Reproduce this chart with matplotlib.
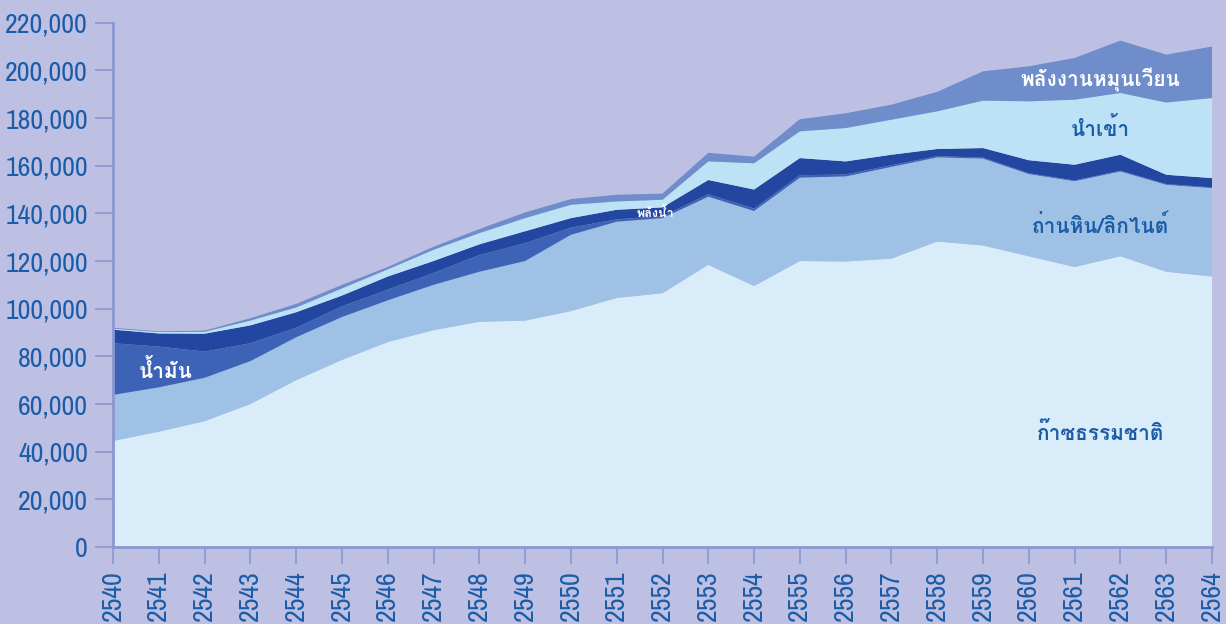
import numpy as np
import matplotlib
matplotlib.use("Agg")
import matplotlib.pyplot as plt
from matplotlib import font_manager
from matplotlib.font_manager import FontProperties
from matplotlib.ft2font import FT2Font
from matplotlib.ticker import FuncFormatter

# ---- data (thousands) ----
years = list(range(2540, 2565))
gas = [44.5, 48.4, 52.8, 60.0, 70.0, 78.5, 86.0, 91.0, 94.5, 95.0, 99.0, 104.5, 106.5,
       118.4, 109.5, 120.0, 119.8, 121.0, 128.2, 126.5, 122.0, 117.5, 122.0, 115.5, 113.5]
coal = [19.3, 18.6, 18.2, 18.0, 18.0, 18.0, 17.5, 19.0, 21.0, 25.0, 32.0, 32.0, 31.5,
        28.6, 31.5, 35.0, 35.7, 38.5, 35.3, 36.5, 34.5, 36.0, 35.6, 36.5, 37.1]
oil = [21.7, 17.1, 11.0, 7.5, 4.0, 4.5, 4.5, 5.0, 7.0, 7.5, 3.0, 1.0, 0.8,
       1.0, 1.0, 1.0, 0.8, 0.7, 0.5, 0.4, 0.3, 0.3, 0.3, 0.3, 0.3]
hydro = [5.7, 5.5, 7.5, 7.5, 6.5, 4.5, 5.5, 5.0, 4.5, 5.0, 4.0, 4.0, 3.7,
         6.0, 8.0, 7.2, 5.5, 4.4, 3.0, 4.0, 5.5, 6.6, 6.7, 3.9, 3.9]
imports = [0.4, 0.6, 0.8, 2.0, 2.0, 3.0, 3.0, 4.7, 4.7, 5.5, 5.6, 3.5, 3.2,
           7.8, 11.0, 11.2, 14.0, 14.7, 15.8, 19.9, 24.7, 27.3, 25.9, 30.3, 33.6]
renew = [0.4, 0.3, 0.5, 1.0, 1.5, 1.5, 1.0, 1.3, 1.7, 2.4, 2.4, 2.8, 2.6,
         3.6, 2.8, 5.1, 6.2, 6.3, 8.2, 12.3, 14.7, 17.5, 22.0, 20.1, 21.6]
yticks = list(range(0, 220001, 20000))


def find_thai_font():
    for f in font_manager.fontManager.ttflist:
        try:
            if 0x0E19 in FT2Font(f.fname).get_charmap():
                return f.name
        except Exception:
            pass
    return "DejaVu Sans"


def find_narrow_font():
    # prefer a condensed face for the tick numbers
    narrow = []
    for f in font_manager.fontManager.ttflist:
        n = (f.name + " " + f.fname).lower()
        if f.style != "normal" or f.weight not in (400, "normal", "regular"):
            continue
        if "condensed" in n or "narrow" in n or str(f.stretch) in ("condensed", "extra-condensed", "semi-condensed"):
            if "dejavu" not in n:
                narrow.append(f.fname)
    if narrow:
        return FontProperties(fname=sorted(narrow)[0], size=20)
    return FontProperties(family="Liberation Sans", size=17.5)


thai_font = find_thai_font()
num_fp = find_narrow_font()

BG = "#bdc0e2"
TICK_BLUE = "#1b5ca8"
AXIS = "#8b97cf"
colors = ["#d9ecfa", "#9ec1e5", "#3c63b6", "#2347a0", "#bde2f5", "#6f8dcb"]

fig = plt.figure(figsize=(12.26, 6.24), dpi=100, facecolor=BG)
ax = fig.add_axes([113 / 1226, 77 / 624, (1212 - 113) / 1226, (547 - 22.7) / 624])
ax.set_facecolor(BG)

series = [np.array(s) * 1000 for s in (gas, coal, oil, hydro, imports, renew)]
ax.stackplot(years, *series, colors=colors, linewidth=0)

ax.set_xlim(2540, 2564)
ax.set_ylim(0, 220000)
ax.set_xticks(years)
ax.set_yticks(yticks)
ax.yaxis.set_major_formatter(FuncFormatter(lambda v, p: f"{int(v):,}"))

for s in ("top", "right"):
    ax.spines[s].set_visible(False)
for s in ("left", "bottom"):
    ax.spines[s].set_color(AXIS)
    ax.spines[s].set_linewidth(2)

ax.tick_params(axis="y", length=13, width=1.2, color=AXIS, pad=5, labelcolor=TICK_BLUE)
ax.tick_params(axis="x", length=12, width=1.2, color=AXIS, pad=5, labelcolor=TICK_BLUE,
               labelrotation=90)
for lab in ax.get_xticklabels() + ax.get_yticklabels():
    lab.set_fontproperties(num_fp)

# in-chart labels
lx = 2561.56
ax.text(2541.15, 74000, "น้ำมัน", color="white", fontsize=15, fontweight="bold",
        family=thai_font, ha="center", va="center")
ax.text(2551.85, 140000, "พลังน้ำ", color="white", fontsize=9, fontweight="bold",
        family=thai_font, ha="center", va="center")
ax.text(lx, 196000, "พลังงานหมุนเวียน", color="white", fontsize=15, fontweight="bold",
        family=thai_font, ha="center", va="center")
ax.text(lx, 175500, "นำเข้า", color=TICK_BLUE, fontsize=15, fontweight="bold",
        family=thai_font, ha="center", va="center")
ax.text(lx, 134800, "ถ่านหิน/ลิกไนต์", color=TICK_BLUE, fontsize=15, fontweight="bold",
        family=thai_font, ha="center", va="center")
ax.text(lx, 48000, "ก๊าซธรรมชาติ", color=TICK_BLUE, fontsize=15, fontweight="bold",
        family=thai_font, ha="center", va="center")

fig.savefig("out.png", dpi=100, facecolor=BG)
